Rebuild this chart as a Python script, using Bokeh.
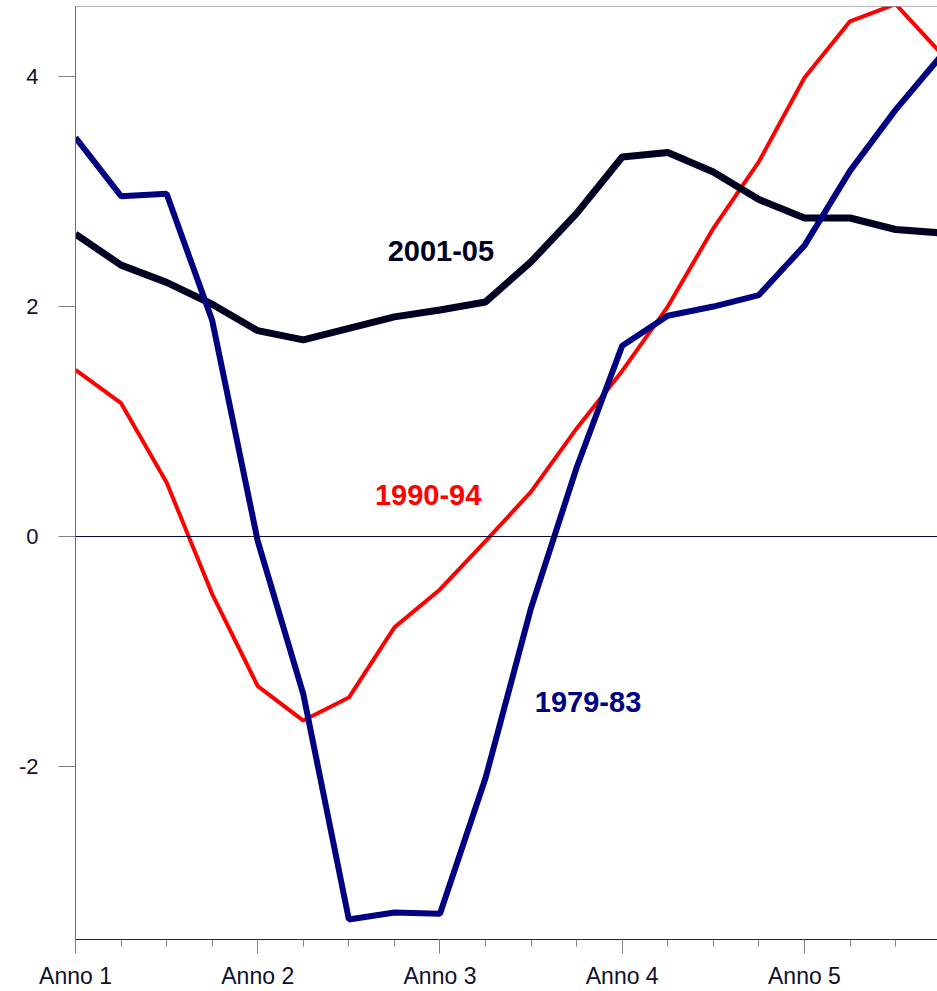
from bokeh.plotting import figure
from bokeh.models import FixedTicker, Span, Range1d
from bokeh.core.properties import value
from bokeh.embed import file_html
from bokeh.resources import INLINE

# ---- data (quarterly, 5 years) ----
quarters = list(range(20))
year_ticks = [0, 4, 8, 12, 16]
year_labels = ["Anno 1", "Anno 2", "Anno 3", "Anno 4", "Anno 5"]
y_ticks = [-2, 0, 2, 4]
y_labels = ["-2", "0", "2", "4"]

s_2001_05 = [2.63, 2.36, 2.21, 2.02, 1.79, 1.71, 1.81, 1.91, 1.97, 2.04,
             2.39, 2.81, 3.30, 3.34, 3.17, 2.93, 2.77, 2.77, 2.67, 2.64]
s_1990_94 = [1.45, 1.16, 0.47, -0.50, -1.30, -1.60, -1.40, -0.79, -0.46, -0.04,
             0.39, 0.94, 1.44, 2.00, 2.68, 3.26, 3.99, 4.48, 4.63, 4.20]
s_1979_83 = [3.47, 2.96, 2.98, 1.88, -0.04, -1.37, -3.33, -3.27, -3.28, -2.10,
             -0.62, 0.60, 1.66, 1.92, 2.00, 2.10, 2.53, 3.18, 3.71, 4.18]

series_names = ["2001-05", "1990-94", "1979-83"]
label_x = [8.02, 7.74, 11.25]
label_y = [2.48, 0.357, -1.443]

X_MIN, X_MAX = 0, 18.92
Y_MIN, Y_MAX = -3.504, 4.609

FONT = "Liberation Sans"
C_BLACK = "#000020"
C_RED = "#ff0000"
C_NAVY = "#000080"
TXT = "#10102a"

p = figure(width=937, height=991, output_backend="svg", toolbar_location=None,
           x_range=Range1d(X_MIN, X_MAX), y_range=Range1d(Y_MIN, Y_MAX),
           min_border_left=75, min_border_right=0, min_border_top=6,
           min_border_bottom=52)

p.background_fill_color = "white"
p.border_fill_color = "white"
p.outline_line_color = None
p.xgrid.visible = False
p.ygrid.visible = False

# top frame line and zero line
p.add_layout(Span(location=Y_MAX, dimension="width", line_color="#6a6a80", line_width=1))
p.add_layout(Span(location=0, dimension="width", line_color="#000030", line_width=1))

p.line(quarters, s_1990_94, line_color=C_RED, line_width=4)
p.line(quarters, s_2001_05, line_color=C_BLACK, line_width=7)
p.line(quarters, s_1979_83, line_color=C_NAVY, line_width=6)

cols = [C_BLACK, C_RED, C_NAVY]
p.text(x=label_x, y=label_y, text=series_names, text_color=cols,
       text_font=value(FONT), text_font_style="bold", text_font_size="29px",
       text_align="center", text_baseline="middle")

# x axis
xa = p.xaxis[0]
xa.ticker = FixedTicker(ticks=year_ticks, minor_ticks=quarters)
xa.major_label_overrides = {t: l for t, l in zip(year_ticks, year_labels)}
xa.axis_line_color = "#202040"
xa.axis_line_width = 1
xa.major_tick_line_color = "#808080"
xa.minor_tick_line_color = "#808080"
xa.major_tick_in = 0
xa.major_tick_out = 14
xa.minor_tick_in = 0
xa.minor_tick_out = 7
xa.major_label_text_font = FONT
xa.major_label_text_font_size = "23px"
xa.major_label_text_color = TXT
xa.major_label_standoff = 9

# y axis
ya = p.yaxis[0]
ya.ticker = FixedTicker(ticks=y_ticks, minor_ticks=[])
ya.major_label_overrides = {t: l for t, l in zip(y_ticks, y_labels)}
ya.axis_line_color = "#6a6a80"
ya.major_tick_line_color = "#808080"
ya.major_tick_in = 0
ya.major_tick_out = 17
ya.minor_tick_line_color = None
ya.major_label_text_font = FONT
ya.major_label_text_font_size = "22px"
ya.major_label_text_color = TXT
ya.major_label_standoff = 20
ya.major_label_orientation = "horizontal"

open("out.html", "w").write(file_html(p, INLINE))
